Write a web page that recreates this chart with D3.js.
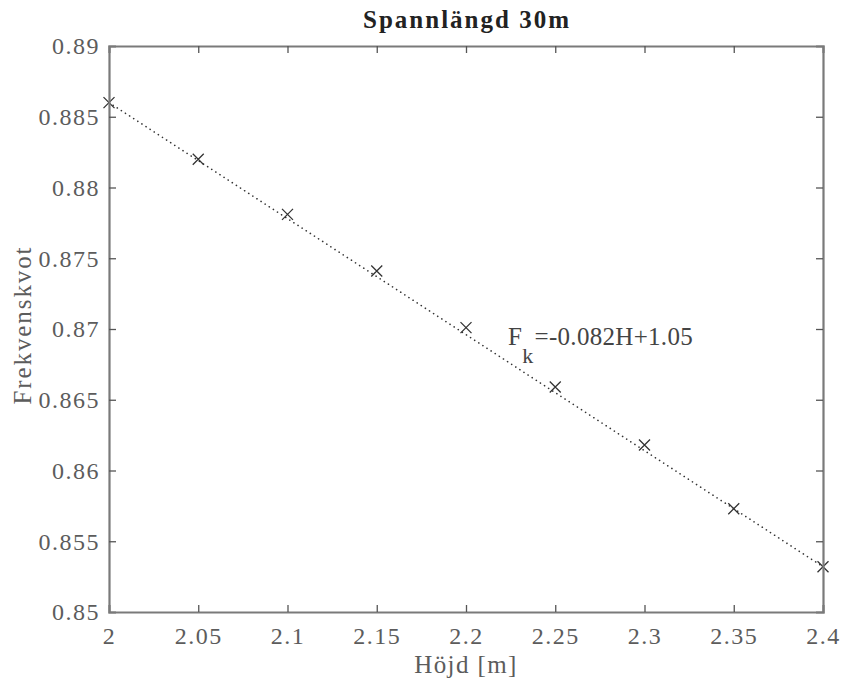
<!DOCTYPE html>
<html>
<head>
<meta charset="utf-8">
<script src="https://cdn.jsdelivr.net/npm/d3@7/dist/d3.min.js"></script>
<style>
  html, body { margin: 0; padding: 0; background: #fff; }
  svg { display: block; }
</style>
</head>
<body>
<svg id="chart" width="842" height="688"></svg>
<script>
// Measured frequency ratio against height, span length 30 m
const heights = [2.00, 2.05, 2.10, 2.15, 2.20, 2.25, 2.30, 2.35, 2.40];
const ratios  = [0.8860, 0.8820, 0.8781, 0.8741, 0.8701, 0.8659, 0.8618, 0.8573, 0.8532];

// Linear fit F_k = slope*H + intercept
const fitSlope = -0.082;
const fitIntercept = 1.05;
const fitLabel = "=-0.082H+1.05";

const xTicks = [2, 2.05, 2.1, 2.15, 2.2, 2.25, 2.3, 2.35, 2.4];
const yTicks = [0.85, 0.855, 0.86, 0.865, 0.87, 0.875, 0.88, 0.885, 0.89];

const titleText = "Spannlängd 30m";
const xLabel = "Höjd [m]";
const yLabel = "Frekvenskvot";

const FONT = '"Liberation Serif", "Times New Roman", serif';

const svg = d3.select("#chart");
const plotL = 109, plotR = 823, plotT = 46, plotB = 612;

const x = d3.scaleLinear().domain([2, 2.4]).range([plotL, plotR]);
const y = d3.scaleLinear().domain([0.85, 0.89]).range([plotB, plotT]);

const axisColor = "#7a7a7a";
const textColor = "#5c5c5c";
const tickLen = 7;

// Fit line (dotted)
const fitPts = [2, 2.4].map(h => [x(h), y(fitSlope * h + fitIntercept)]);
svg.append("path")
  .attr("d", d3.line()(fitPts))
  .attr("fill", "none")
  .attr("stroke", "#333")
  .attr("stroke-width", 1.6)
  .attr("stroke-linecap", "round")
  .attr("stroke-dasharray", "0.1,4.8");

// Cross markers
const s = 5.5;
svg.append("g").selectAll("path")
  .data(heights.map((h, i) => [h, ratios[i]]))
  .join("path")
  .attr("d", d => {
    const cx = x(d[0]), cy = y(d[1]);
    return `M${cx - s},${cy - s}L${cx + s},${cy + s}M${cx - s},${cy + s}L${cx + s},${cy - s}`;
  })
  .attr("stroke", "#333")
  .attr("stroke-width", 1.3)
  .attr("fill", "none");

// Axes: bottom/left with labels, top/right mirrored ticks only
const fmt = d => String(+d.toFixed(3));
const axB = svg.append("g").attr("transform", `translate(0,${plotB})`)
  .call(d3.axisBottom(x).tickValues(xTicks).tickSize(-tickLen).tickPadding(15).tickFormat(fmt));
const axT = svg.append("g").attr("transform", `translate(0,${plotT})`)
  .call(d3.axisTop(x).tickValues(xTicks).tickSize(-tickLen).tickFormat(""));
const axL = svg.append("g").attr("transform", `translate(${plotL},0)`)
  .call(d3.axisLeft(y).tickValues(yTicks).tickSize(-tickLen).tickPadding(9).tickFormat(fmt));
const axR = svg.append("g").attr("transform", `translate(${plotR},0)`)
  .call(d3.axisRight(y).tickValues(yTicks).tickSize(-tickLen).tickFormat(""));

[axB, axT, axL, axR].forEach(g => {
  g.attr("font-family", FONT).attr("font-size", 24);
  g.select(".domain").attr("stroke", axisColor).attr("stroke-width", 2.2);
  g.selectAll(".tick line").attr("stroke", "#555").attr("stroke-width", 1.3);
  g.selectAll(".tick text").attr("fill", textColor).attr("letter-spacing", 1.5);
});
// Hide end ticks that coincide with the box
[axB, axT].forEach(g => g.selectAll(".tick line").filter(d => d === 2 || d === 2.4).remove());
[axL, axR].forEach(g => g.selectAll(".tick line").filter(d => d === 0.85 || d === 0.89).remove());
axL.selectAll(".tick text").attr("dy", "0.33em");

// Title
svg.append("text")
  .attr("x", (plotL + plotR) / 2 + 1).attr("y", 28)
  .attr("text-anchor", "middle")
  .attr("font-family", FONT)
  .attr("font-weight", "bold")
  .attr("font-size", 25)
  .attr("letter-spacing", 2.0)
  .attr("fill", "#222")
  .text(titleText);

// Axis labels
svg.append("text")
  .attr("x", (plotL + plotR) / 2).attr("y", 673)
  .attr("text-anchor", "middle")
  .attr("font-family", FONT)
  .attr("font-size", 25)
  .attr("letter-spacing", 1.4)
  .attr("fill", textColor)
  .text(xLabel);

svg.append("text")
  .attr("transform", `translate(31,${(plotT + plotB) / 2 - 4}) rotate(-90)`)
  .attr("text-anchor", "middle")
  .attr("font-family", FONT)
  .attr("font-size", 25)
  .attr("letter-spacing", 1.9)
  .attr("fill", textColor)
  .text(yLabel);

// Fit equation annotation
const ann = svg.append("text")
  .attr("x", 508).attr("y", 345)
  .attr("font-family", FONT)
  .attr("font-size", 25)
  .attr("letter-spacing", 0.3)
  .attr("fill", "#444");
ann.append("tspan").text("F");
ann.append("tspan").attr("dy", 18).attr("font-size", 22).text("k");
ann.append("tspan").attr("dy", -18).attr("dx", 1).text(fitLabel);
</script>
</body>
</html>
